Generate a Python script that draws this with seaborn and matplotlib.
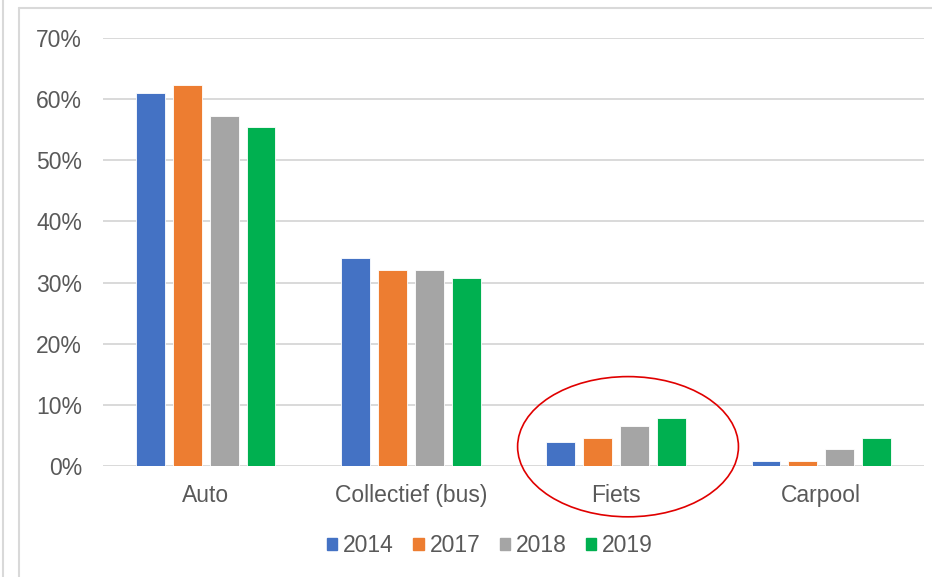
import pandas as pd
import seaborn as sns
import matplotlib.pyplot as plt
from matplotlib.patches import Ellipse
from matplotlib.lines import Line2D
from matplotlib.ticker import PercentFormatter, MultipleLocator

# Data (percentages)
categories = ['Auto', 'Collectief (bus)', 'Fiets', 'Carpool']
years = ['2014', '2017', '2018', '2019']
v2014 = [61.0, 34.0, 4.0, 0.8]
v2017 = [62.3, 32.0, 4.6, 0.8]
v2018 = [57.2, 32.0, 6.6, 2.9]
v2019 = [55.4, 30.7, 7.9, 4.7]
colors = ['#4472C4', '#ED7D31', '#A5A5A5', '#00B050']

rows = []
for year, vals in zip(years, [v2014, v2017, v2018, v2019]):
    for cat, v in zip(categories, vals):
        rows.append({'categorie': cat, 'jaar': year, 'aandeel': v})
df = pd.DataFrame(rows)

sns.set_style('white')
plt.rcParams['font.family'] = ['Liberation Sans', 'DejaVu Sans']
txt = '#595959'
fs = 16.5

fig = plt.figure(figsize=(9.32, 5.77), dpi=100)
ax = fig.add_axes([103/932, 110.7/577, (924-103)/932, (466.3-37.7)/577])

sns.barplot(data=df, x='categorie', y='aandeel', hue='jaar', order=categories,
            hue_order=years, palette=colors, saturation=1, width=0.72, gap=0.22,
            edgecolor='white', linewidth=0.6, ax=ax, legend=False)

ax.set_ylim(0, 70)
ax.set_xlim(-0.5, 3.5)
ax.yaxis.set_major_locator(MultipleLocator(10))
ax.yaxis.set_major_formatter(PercentFormatter(decimals=0))
ax.grid(axis='y', color='#D9D9D9', linewidth=1.4)
ax.set_axisbelow(True)
for s in ax.spines.values():
    s.set_visible(False)
ax.set_xlabel('')
ax.set_ylabel('')
ax.tick_params(axis='y', length=0, pad=15, labelsize=fs, labelcolor=txt)
ax.tick_params(axis='x', length=0, pad=13, labelsize=fs, labelcolor=txt)

# red ellipse around Fiets
ax.add_patch(Ellipse((2.058, 3.2), 1.076, 22.9, fill=False, edgecolor='#E00000',
                     linewidth=1.2, clip_on=False, zorder=5))

# legend
handles = [plt.Rectangle((0, 0), 1, 1, color=c) for c in colors]
fig.legend(handles, years, loc='center', bbox_to_anchor=(490/932, 1 - 546/577),
           ncol=4, frameon=False, fontsize=fs, labelcolor=txt,
           handlelength=0.45, handleheight=0.45, handletextpad=0.25, columnspacing=0.85)

# chart borders
fig.add_artist(Line2D([3/932, 3/932], [0, 1], transform=fig.transFigure, color='#D9D9D9', lw=1.5))
fig.add_artist(Line2D([19/932, 19/932], [0, 1 - 8/577], transform=fig.transFigure, color='#D9D9D9', lw=1.5))
fig.add_artist(Line2D([19/932, 1], [1 - 8/577, 1 - 8/577], transform=fig.transFigure, color='#D9D9D9', lw=1.5))

fig.savefig('out.png', dpi=100)
